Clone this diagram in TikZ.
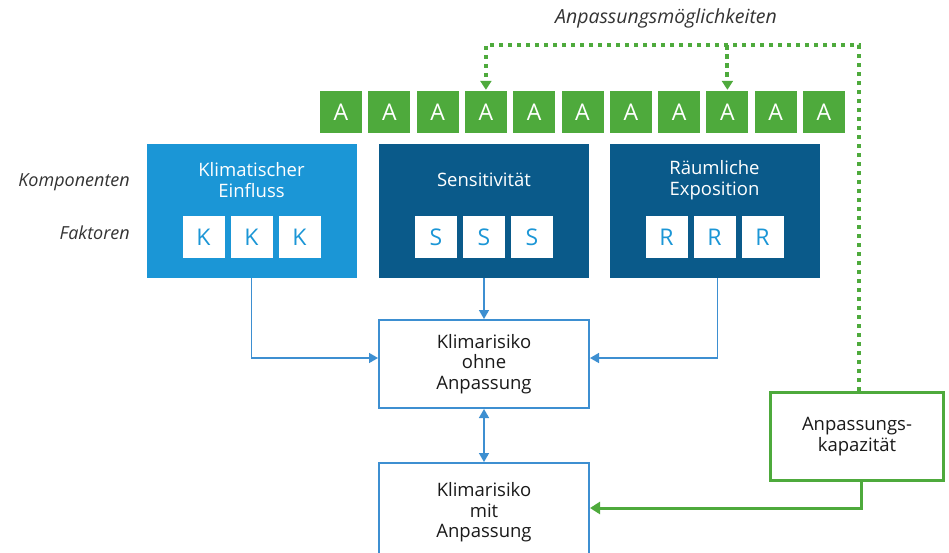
\documentclass[tikz,border=0pt]{standalone}
\usepackage{fontspec}
\setmainfont{Open Sans}
\usetikzlibrary{arrows.meta}
\definecolor{lblue}{HTML}{1B96D6}
\definecolor{dblue}{HTML}{0A5A8A}
\definecolor{agreen}{HTML}{4EAA3C}
\definecolor{lineblue}{HTML}{3D8FD1}
\definecolor{txtgray}{HTML}{1A1A1A}
\definecolor{labgray}{HTML}{333333}
\begin{document}
\begin{tikzpicture}[x=1pt,y=-1pt,
  abox/.style={fill=agreen, text=white, minimum width=42pt, minimum height=42pt, inner sep=0pt, font=\fontsize{23}{24}\selectfont},
  compbox/.style={fill=#1, minimum width=210pt, minimum height=134pt, inner sep=0pt},
  comptitle/.style={text=white, align=center, inner sep=0pt, font=\fontsize{18.5}{20.5}\selectfont},
  fbox/.style={fill=white, text=lblue, minimum width=42pt, minimum height=42pt, inner sep=0pt, font=\fontsize{23}{24}\selectfont},
  riskbox/.style={draw=lineblue, line width=2pt, fill=white, minimum width=210pt, minimum height=88pt, inner sep=0pt, align=center, text=txtgray, font=\fontsize{18.5}{20.5}\selectfont},
  kapbox/.style={draw=agreen, line width=3pt, fill=white, minimum width=173pt, minimum height=88pt, inner sep=0pt, align=center, text=txtgray, font=\fontsize{18.5}{20.5}\selectfont},
  lab/.style={text=labgray, inner sep=0pt, font=\fontsize{18}{20}\selectfont\itshape},
  barrow/.style={draw=lineblue, line width=1.5pt, -{Triangle[length=9pt,width=10pt]}},
  garrow/.style={draw=agreen, line width=3pt, -{Triangle[length=10pt,width=12pt]}},
  gdot/.style={draw=agreen, line width=4pt, dash pattern=on 4.5pt off 4.5pt, -{Triangle[length=9pt,width=11pt]}}
]
\useasboundingbox (0,0) rectangle (949,552);
\clip (0,0) rectangle (949,552);
\fill[white] (0,0) rectangle (949,552);

% A boxes
\foreach \i in {0,...,10} {
  \node[abox] (a\i) at ({341+48.3*\i},112) {A};
}

% component boxes
\node[compbox=lblue] (kb) at (251.5,211) {};
\node[compbox=dblue] (sb) at (484,211) {};
\node[compbox=dblue] (rb) at (714.5,211) {};
\node[comptitle] (kt) at (251.5,180) {Klimatischer\\Einfluss};
\node[comptitle] (st) at (484,180) {Sensitivität};
\node[comptitle] (rt) at (714.5,180) {Räumliche\\Exposition};

\foreach \n/\c/\l in {k/251.5/K, s/484/S, r/714.5/R} {
  \node[fbox] (\n1) at (\c-48,237) {\l};
  \node[fbox] (\n2) at (\c,237) {\l};
  \node[fbox] (\n3) at (\c+48,237) {\l};
}

% labels
\node[lab, anchor=east] (komp) at (130,182) {Komponenten};
\node[lab, anchor=east] (fakt) at (130,233) {Faktoren};
\node[lab, font=\fontsize{19.5}{20}\selectfont\itshape] (moegl) at (666,18) {Anpassungsmöglichkeiten};

% risk boxes
\node[riskbox] (ohne) at (484,364) {Klimarisiko\\ohne\\Anpassung};
\node[riskbox, minimum height=94pt, text depth=0pt] (mit) at (484,510) {Klimarisiko\\mit\\Anpassung};
\node[kapbox] (kap) at (857,436.5) {Anpassungs-\\kapazität};

% blue connectors
\draw[barrow] (kb.south) |- ([yshift=6pt]ohne.west);
\draw[barrow] (sb.south) -- (ohne.north);
\draw[barrow] ([xshift=3pt]rb.south) |- ([yshift=6pt]ohne.east);
\draw[barrow, {Triangle[length=9pt,width=10pt]}-{Triangle[length=9pt,width=10pt]}] (ohne.south) -- (mit.north);

% green connectors
\draw[garrow] ([xshift=4pt]kap.south) |- ([yshift=2pt]mit.east);
\coordinate (dc) at (859,45);
\draw[gdot] ([xshift=2pt]kap.north) -- (dc) -| ([yshift=1pt]a3.north);
\draw[gdot] (dc -| a8.north) -- ([yshift=1pt]a8.north);
\end{tikzpicture}
\end{document}
